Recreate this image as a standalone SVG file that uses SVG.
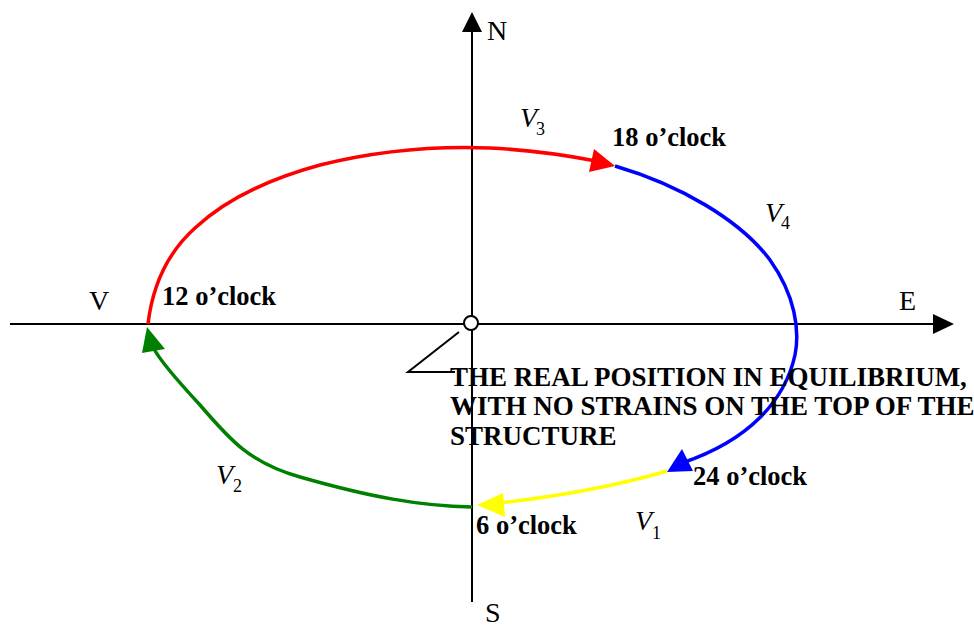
<svg xmlns="http://www.w3.org/2000/svg" width="974" height="628" viewBox="0 0 974 628">
<style>
.ax{stroke:#000;stroke-width:2;fill:none}
.cv{fill:none;stroke-width:3.5;stroke-linejoin:round;stroke-linecap:butt}
.lbl{font-family:"Liberation Serif","Times New Roman",serif;font-size:28px;fill:#000}
.bold{font-family:"Liberation Serif","Times New Roman",serif;font-size:26.5px;font-weight:bold;fill:#000}
.note{font-family:"Liberation Serif","Times New Roman",serif;font-size:27px;font-weight:bold;fill:#000}
.v{font-family:"Liberation Serif","Times New Roman",serif;font-size:28px;font-style:italic;fill:#000}
.sub{font-family:"Liberation Serif","Times New Roman",serif;font-size:18px;font-style:normal;fill:#000}
</style>
<rect width="974" height="628" fill="#fff"/>
<g id="axes">
<line class="ax" x1="10" y1="324" x2="936" y2="324"/>
<polygon points="954,324 933,314 933,334" fill="#000"/>
<line class="ax" x1="472" y1="602" x2="472" y2="30"/>
<polygon points="472,12 462,32 482,32" fill="#000"/>
<text class="lbl" x="487" y="40">N</text>
<text class="lbl" x="899" y="310">E</text>
<text class="lbl" x="89" y="310">V</text>
<text class="lbl" x="485" y="622">S</text>
</g>
<g id="connectors">
<path class="cv" stroke="#ff0000" d="M148,324 C152,290 165,255 195,228 C225,200 265,180 320,165 C380,150 440,146 490,148 C530,150 565,155 596,161"/>
<polygon points="615,166 594,149 589,172" fill="#ff0000"/>
<path class="cv" stroke="#0000ff" d="M615,166 C680,185 740,220 770,260 C795,295 800,330 795,355 C785,400 750,440 682,463"/>
<polygon points="667,472 682,449 693,471" fill="#0000ff"/>
<path class="cv" stroke="#ffff00" d="M667,471 C620,485 560,496 500,503"/>
<polygon points="477,505 503,493 505,517" fill="#ffff00"/>
<path class="cv" stroke="#008000" d="M472,507 C420,506 370,497 300,477 C250,463 230,440 200,405 C175,378 160,360 154,349"/>
<polygon points="147,327 142,353 165,349" fill="#008000"/>
<polyline class="ax" points="459,332 408,372 455,372"/>
</g>
<g id="origin">
<circle cx="471" cy="323" r="7" fill="#fff" stroke="#000" stroke-width="2"/>
</g>
<g id="label-18"><text class="bold" x="612" y="146">18 o’clock</text></g>
<g id="label-12"><text class="bold" x="162" y="305">12 o’clock</text></g>
<g id="label-24"><text class="bold" x="693" y="485">24 o’clock</text></g>
<g id="label-6"><text class="bold" x="476" y="534">6 o’clock</text></g>
<g id="label-v3"><text class="v" x="520" y="127">V<tspan class="sub" x="536" y="135">3</tspan></text></g>
<g id="label-v4"><text class="v" x="765" y="222">V<tspan class="sub" x="781" y="229">4</tspan></text></g>
<g id="label-v2"><text class="v" x="216" y="484">V<tspan class="sub" x="233" y="492">2</tspan></text></g>
<g id="label-v1"><text class="v" x="635" y="530">V<tspan class="sub" x="652" y="539">1</tspan></text></g>
<g id="note">
<text class="note" x="450" y="386">THE REAL POSITION IN EQUILIBRIUM,</text>
<text class="note" x="450" y="415">WITH NO STRAINS ON THE TOP OF THE</text>
<text class="note" x="450" y="445">STRUCTURE</text>
</g>
</svg>
